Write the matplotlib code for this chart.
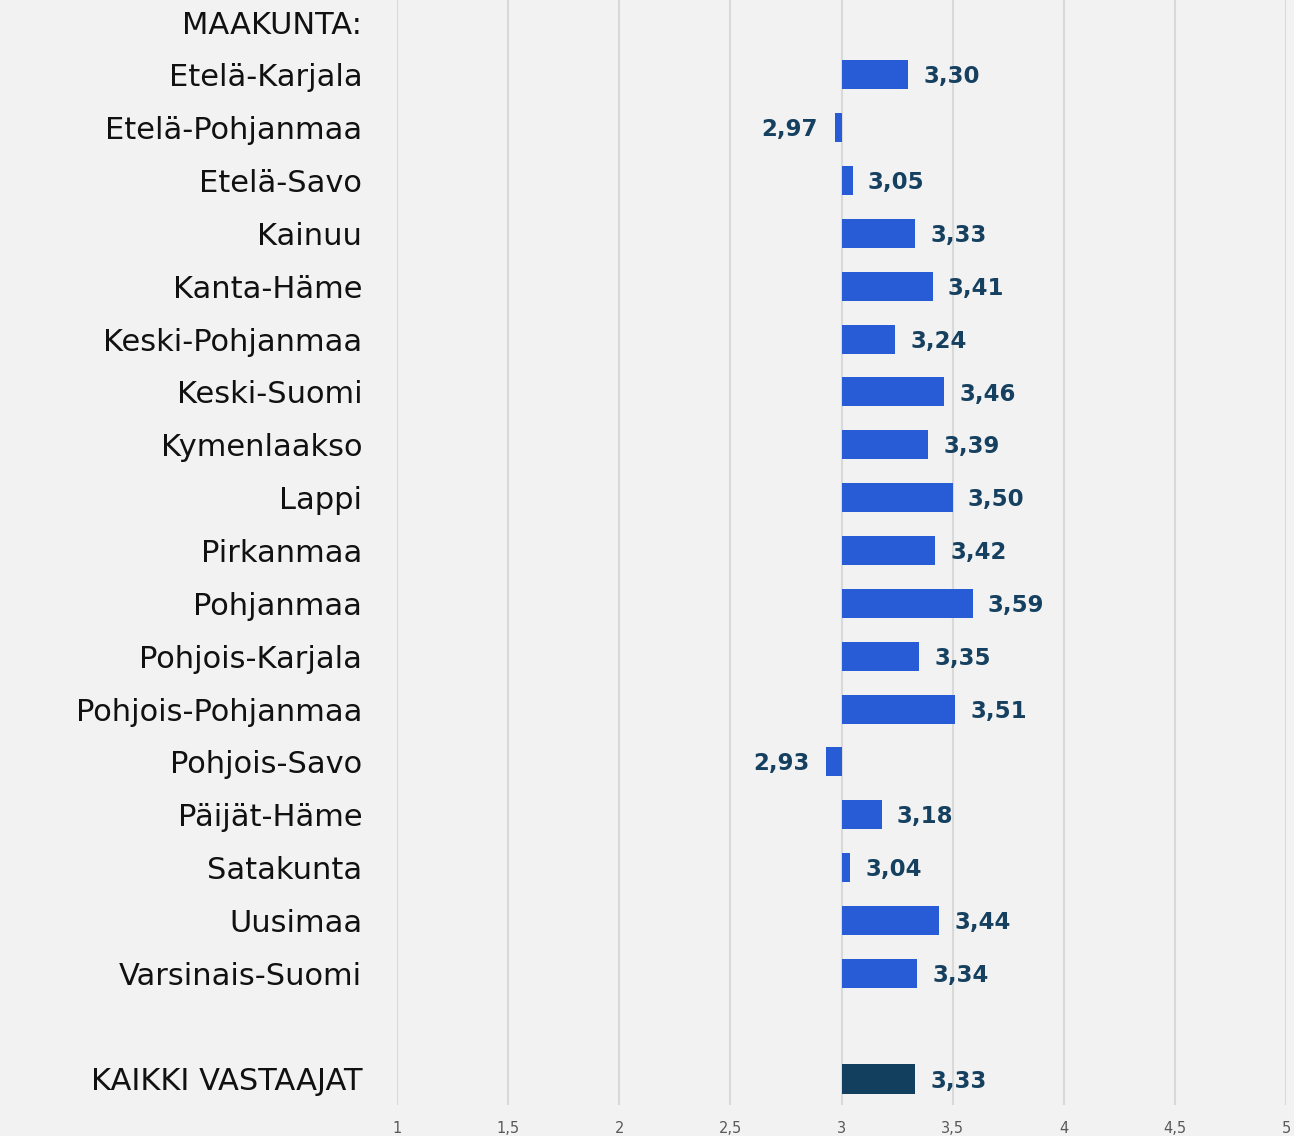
import numpy as np
import matplotlib.pyplot as plt

regions = ["MAAKUNTA:", "Etelä-Karjala", "Etelä-Pohjanmaa", "Etelä-Savo", "Kainuu",
           "Kanta-Häme", "Keski-Pohjanmaa", "Keski-Suomi", "Kymenlaakso", "Lappi",
           "Pirkanmaa", "Pohjanmaa", "Pohjois-Karjala", "Pohjois-Pohjanmaa",
           "Pohjois-Savo", "Päijät-Häme", "Satakunta", "Uusimaa", "Varsinais-Suomi",
           "", "KAIKKI VASTAAJAT"]
values = [None, 3.30, 2.97, 3.05, 3.33, 3.41, 3.24, 3.46, 3.39, 3.50, 3.42, 3.59,
          3.35, 3.51, 2.93, 3.18, 3.04, 3.44, 3.34, None, 3.33]
base = 3.0
xticks = [1, 1.5, 2, 2.5, 3, 3.5, 4, 4.5, 5]
xticklabels = ["1", "1,5", "2", "2,5", "3", "3,5", "4", "4,5", "5"]

bg = "#f2f2f2"
blue = "#285cd6"
navy = "#123f5e"
text_navy = "#16405f"

W, H = 1294, 1136
fig = plt.figure(figsize=(W / 100, H / 100), dpi=100, facecolor=bg)
top_px, bot_px = -4.4, 1105.4
ax = fig.add_axes([397 / W, 1 - bot_px / H, (1286 - 397) / W, (bot_px - top_px) / H])
ax.set_facecolor(bg)

for i, v in enumerate(values):
    if v is None:
        continue
    color = navy if regions[i] == "KAIKKI VASTAAJAT" else blue
    ax.barh(i, v - base, left=base, height=0.55, color=color, zorder=3)
    label = f"{v:.2f}".replace(".", ",")
    if v >= base:
        ax.annotate(label, (v, i), xytext=(11, -1.5), textcoords="offset points",
                    ha="left", va="center", fontsize=16.5, fontweight="heavy",
                    color=text_navy, family="DejaVu Sans")
    else:
        ax.annotate(label, (v, i), xytext=(-12, -1.5), textcoords="offset points",
                    ha="right", va="center", fontsize=16.5, fontweight="heavy",
                    color=text_navy, family="DejaVu Sans")

ax.set_xlim(1, 5)
ax.set_ylim(len(regions) - 0.5, -0.5)
ax.set_xticks(xticks)
ax.set_xticklabels(xticklabels, color="#595959", fontsize=10.5,
                   family=["Liberation Sans Narrow", "DejaVu Sans"])
ax.set_yticks(range(len(regions)))
ax.set_yticklabels(regions, fontsize=22, family="DejaVu Sans", color="#111111")
ax.tick_params(axis="y", length=0, pad=25)
ax.tick_params(axis="x", length=0, pad=11)
ax.grid(axis="x", color="#d9d9d9", linewidth=1.5, zorder=0)
for s in ax.spines.values():
    s.set_visible(False)

fig.savefig("out.png", dpi=100, facecolor=bg)
